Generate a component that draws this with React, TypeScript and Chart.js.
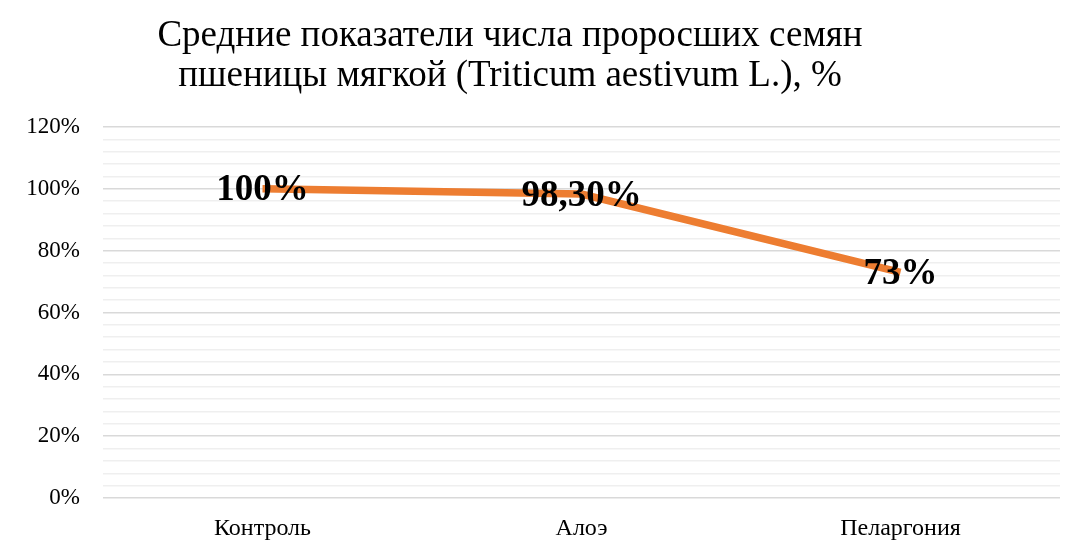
import React, { useEffect, useRef } from "react";
import { Chart, registerables } from "chart.js";

Chart.register(...registerables);

const titleLines = [
  "Средние показатели числа проросших семян",
  "пшеницы мягкой (Triticum aestivum L.), %",
];
const categories = ["Контроль", "Алоэ", "Пеларгония"];
const values = [100, 98.3, 73];
const valueLabels = ["100%", "98,30%", "73%"];

const SERIF = "'Liberation Serif', 'Times New Roman', serif";

const titlePlugin = {
  id: "customTitle",
  afterDraw(chart: any) {
    const ctx = chart.ctx;
    ctx.save();
    ctx.font = `37px ${SERIF}`;
    ctx.fillStyle = "#000";
    ctx.textAlign = "center";
    ctx.textBaseline = "middle";
    ctx.fillText(titleLines[0], 510, 36);
    ctx.fillText(titleLines[1], 510, 76);
    ctx.restore();
  },
};

const labelPlugin = {
  id: "valueLabels",
  afterDatasetsDraw(chart: any) {
    const ctx = chart.ctx;
    const meta = chart.getDatasetMeta(0);
    ctx.save();
    ctx.font = `bold 37px ${SERIF}`;
    ctx.fillStyle = "#000";
    ctx.textAlign = "center";
    ctx.textBaseline = "middle";
    meta.data.forEach((pt: any, i: number) => {
      ctx.fillText(valueLabels[i], pt.x, pt.y + 2);
    });
    ctx.restore();
  },
};

export default function App() {
  const ref = useRef<HTMLCanvasElement>(null);
  useEffect(() => {
    if (!ref.current) return;
    const chart = new Chart(ref.current, {
      type: "line",
      data: {
        labels: categories,
        datasets: [
          {
            data: values,
            borderColor: "#ED7D31",
            borderWidth: 7.5,
            pointRadius: 0,
            tension: 0,
            borderCapStyle: "butt",
          },
        ],
      },
      options: {
        animation: false,
        responsive: false,
        maintainAspectRatio: false,
        layout: { padding: { top: 127, right: 19, left: 0, bottom: 0 } },
        plugins: {
          legend: { display: false },
          title: { display: false },
          tooltip: { enabled: false },
        },
        scales: {
          x: {
            offset: true,
            grid: { display: false, drawTicks: false },
            border: { display: false },
            ticks: {
              color: "#000",
              font: { family: SERIF, size: 24 },
              padding: 16,
            },
            afterFit: (s: any) => {
              s.height = 54;
            },
          },
          y: {
            min: 0,
            max: 120,
            grid: {
              drawTicks: false,
              color: (c: any) =>
                c.tick && c.tick.value % 20 === 0 ? "#d9d9d9" : "#efefef",
              lineWidth: 1.5,
            },
            border: { display: false },
            ticks: {
              stepSize: 4,
              autoSkip: false,
              color: "#000",
              font: { family: SERIF, size: 23 },
              padding: 23,
              callback: (v: any) => (Number(v) % 20 === 0 ? `${v}%` : ""),
            },
            afterFit: (s: any) => {
              s.width = 103;
            },
          },
        },
      },
      plugins: [titlePlugin, labelPlugin],
    });
    return () => chart.destroy();
  }, []);
  return (
    <div
      style={{
        position: "fixed",
        left: 0,
        top: 0,
        width: 1079,
        height: 552,
        background: "#fff",
      }}
    >
      <canvas ref={ref} width={1079} height={552} />
    </div>
  );
}
